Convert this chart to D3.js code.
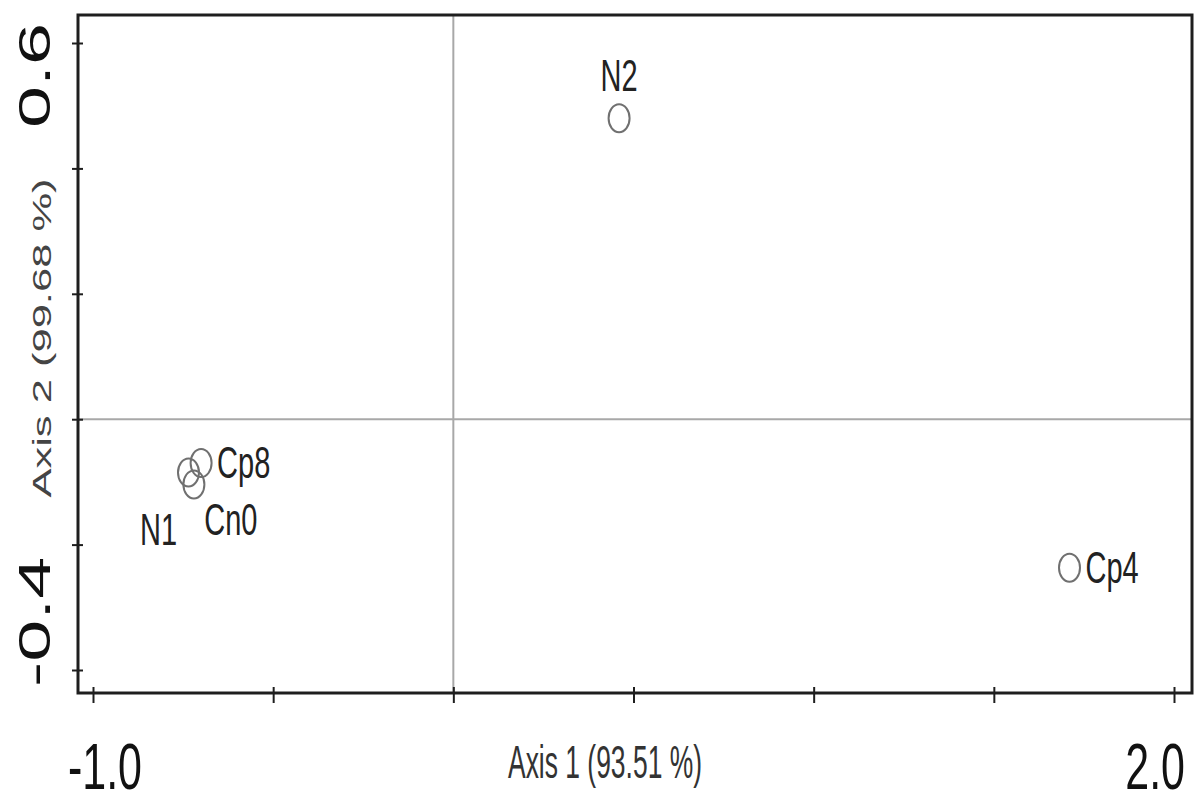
<!DOCTYPE html>
<html>
<head>
<meta charset="utf-8">
<script src="https://cdn.jsdelivr.net/npm/d3@7"></script>
<style>
  html, body { margin: 0; padding: 0; background: #fff; }
  svg { display: block; }
</style>
</head>
<body>
<svg id="chart" width="1194" height="805"></svg>
<script>
// Sample scores on the first two ordination axes
const samples = ["N2", "Cp4", "Cp8", "N1", "Cn0"];
const axis1Scores = [0.46, 1.71, -0.70, -0.735, -0.72];
const axis2Scores = [0.48, -0.237, -0.07, -0.085, -0.104];
const labelSides = ["above", "right", "right", "lowerLeft", "below"];

// Axis ticks and the values that carry a printed label
const xTickValues = [-1.0, -0.5, 0.0, 0.5, 1.0, 1.5, 2.0];
const yTickValues = [-0.4, -0.2, 0.0, 0.2, 0.4, 0.6];
const xLabelledTicks = [-1.0, 2.0];
const yLabelledTicks = [-0.4, 0.6];
const xTitle = "Axis 1 (93.51 %)";
const yTitle = "Axis 2 (99.68 %)";

const frame = { left: 78, top: 15, right: 1192, bottom: 693 };
const FONT = "'Liberation Sans', Arial, Helvetica, sans-serif";
const STRETCH = 1.68;   // glyphs are drawn taller than wide

const svg = d3.select("#chart");

const x = d3.scaleLinear().domain([-1.0, 2.0]).range([93, 1174]);
const y = d3.scaleLinear().domain([-0.4, 0.6]).range([670, 43]);
const fmt = v => v.toFixed(1);   // plain hyphen for negatives

// Text drawn with a vertical stretch; returns the <text> node
function tallText(str, px, py, opts) {
  const o = Object.assign({ size: 30, k: STRETCH, anchor: "middle", rotate: false,
                            fill: "#222", length: null, weight: "normal" }, opts);
  const g = svg.append("g")
    .attr("transform", `translate(${px},${py}) scale(1,${o.k})` + (o.rotate ? " rotate(-90)" : ""));
  const t = g.append("text")
    .attr("text-anchor", o.anchor)
    .attr("font-family", FONT)
    .attr("font-size", o.size)
    .attr("font-weight", o.weight)
    .attr("fill", o.fill)
    .text(str);
  if (o.length) t.attr("textLength", o.length).attr("lengthAdjust", "spacingAndGlyphs");
  return t;
}

// Reference lines through the origin
svg.append("line")
  .attr("x1", x(0)).attr("x2", x(0))
  .attr("y1", frame.top).attr("y2", frame.bottom)
  .attr("stroke", "#a8a8a8").attr("stroke-width", 2);
svg.append("line")
  .attr("x1", frame.left).attr("x2", frame.right)
  .attr("y1", y(0)).attr("y2", y(0))
  .attr("stroke", "#a8a8a8").attr("stroke-width", 2);

// Frame
svg.append("rect")
  .attr("x", frame.left).attr("y", frame.top)
  .attr("width", frame.right - frame.left).attr("height", frame.bottom - frame.top)
  .attr("fill", "none").attr("stroke", "#1e1e1e").attr("stroke-width", 3);

// Tick marks: outward and a short stub inward
function styleTicks(g) {
  g.select(".domain").remove();
  g.selectAll(".tick line").attr("stroke", "#1e1e1e").attr("stroke-width", 2);
  g.selectAll(".tick text").remove();
}
svg.append("g").attr("transform", `translate(0,${frame.bottom})`)
  .call(d3.axisBottom(x).tickValues(xTickValues).tickSize(10)).call(styleTicks);
svg.append("g").attr("transform", `translate(0,${frame.bottom})`)
  .call(d3.axisTop(x).tickValues(xTickValues).tickSize(6)).call(styleTicks);
svg.append("g").attr("transform", `translate(${frame.left},0)`)
  .call(d3.axisLeft(y).tickValues(yTickValues).tickSize(6)).call(styleTicks);
svg.append("g").attr("transform", `translate(${frame.left},0)`)
  .call(d3.axisRight(y).tickValues(yTickValues).tickSize(5)).call(styleTicks);

// Printed tick labels, kept inside the frame's extent
const TICK_SIZE = 43, EDGE = 7, X_BASE = 789, X_STRETCH = 1.5;
xLabelledTicks.forEach(v => {
  const t = tallText(fmt(v), x(v), X_BASE, { size: TICK_SIZE, fill: "#111", k: X_STRETCH });
  const half = t.node().getComputedTextLength() / 2;
  let cx = x(v) + 12;
  cx = Math.min(cx, frame.right - EDGE - half);
  t.node().parentNode.setAttribute("transform", `translate(${cx},${X_BASE}) scale(1,${X_STRETCH})`);
});
yLabelledTicks.forEach(v => {
  const t = tallText(fmt(v), 50, y(v), { size: TICK_SIZE + 2, rotate: true, fill: "#111" });
  const half = t.node().getComputedTextLength() * STRETCH / 2;
  let cy = y(v);
  cy = Math.max(cy, frame.top + 8 + half);
  cy = Math.min(cy, frame.bottom - 6 - half);
  t.node().parentNode.setAttribute("transform", `translate(50,${cy}) scale(1,${STRETCH}) rotate(-90)`);
});

// Axis titles
tallText(xTitle, 605, 778, { size: 27, fill: "#333", length: 194 });
tallText(yTitle, 51, 338, { size: 26, fill: "#444", rotate: true, length: 190 });

// Points
const pts = samples.map((s, i) => ({ name: s, a1: axis1Scores[i], a2: axis2Scores[i], side: labelSides[i] }));
svg.append("g").selectAll("ellipse").data(pts).join("ellipse")
  .attr("cx", d => x(d.a1)).attr("cy", d => y(d.a2))
  .attr("rx", 10.5).attr("ry", 14)
  .attr("fill", "none").attr("stroke", "#707070").attr("stroke-width", 2);

// Point labels
const placement = {
  above:     { dx: 0,   dy: -27, anchor: "middle" },
  right:     { dx: 16,  dy: 15,  anchor: "start" },
  below:     { dx: 37,  dy: 51,  anchor: "middle" },
  lowerLeft: { dx: -30, dy: 73,  anchor: "middle" }
};
pts.forEach(d => {
  const p = placement[d.side];
  tallText(d.name, x(d.a1) + p.dx, y(d.a2) + p.dy, { size: 29, anchor: p.anchor, fill: "#222", k: 1.55 });
});
</script>
</body>
</html>
